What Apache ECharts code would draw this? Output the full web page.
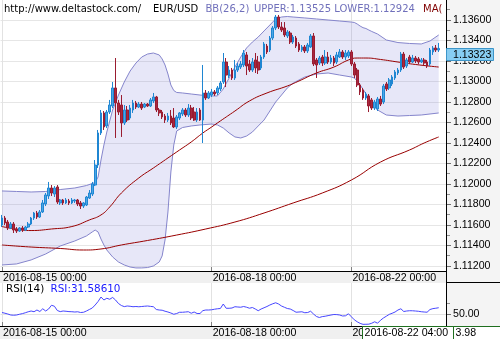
<!DOCTYPE html>
<html><head><meta charset="utf-8">
<script src="https://cdn.jsdelivr.net/npm/echarts@6.0.0/dist/echarts.min.js"></script>
<style>html,body{margin:0;padding:0;background:#fff;overflow:hidden}#chart{width:500px;height:339px}</style>
</head><body><div id="chart"></div>
<script>
// ---------- categories (hourly EUR/USD bars) ----------
const DAYS = ['2016-08-15','2016-08-16','2016-08-17','2016-08-18','2016-08-19','2016-08-22','2016-08-23'];
const SLOTS = 153;
const categories = [];
for (const d of DAYS) for (let h = 0; h < 24 && categories.length < SLOTS; h++) categories.push(d + ' ' + String(h).padStart(2, '0') + ':00');
const tickIdx = [0, 72, 120];
const crossIdx = 124;

// ---------- candles ----------
const open = [1.11600,1.11668,1.11629,1.11571,1.11610,1.11561,1.11541,1.11571,1.11551,1.11580,
1.11610,1.11668,1.11717,1.11678,1.11727,1.11805,1.11883,1.11961,1.11902,1.11971,
1.11815,1.11844,1.11815,1.11834,1.11815,1.11834,1.11844,1.11815,1.11785,1.11795,
1.11863,1.11902,1.11990,1.12185,1.12498,1.12693,1.12566,1.12702,1.12761,1.12937,
1.12790,1.12771,1.12595,1.12722,1.12644,1.12722,1.12790,1.12751,1.12780,1.12751,
1.12780,1.12761,1.12810,1.12849,1.12722,1.12702,1.12663,1.12624,1.12663,1.12644,
1.12556,1.12644,1.12683,1.12722,1.12673,1.12741,1.12702,1.12624,1.12722,1.12624,
1.12888,1.12839,1.12868,1.12898,1.12888,1.12927,1.12995,1.13190,1.13054,1.13112,
1.13034,1.13112,1.13141,1.13161,1.13259,1.13171,1.13112,1.13210,1.13190,1.13132,
1.13239,1.13346,1.13307,1.13424,1.13522,1.13629,1.13532,1.13522,1.13444,1.13473,
1.13385,1.13424,1.13366,1.13307,1.13337,1.13298,1.13337,1.13444,1.13210,1.13180,
1.13239,1.13180,1.13239,1.13190,1.13229,1.13190,1.13239,1.13288,1.13239,1.13249,
1.13288,1.13171,1.13112,1.12966,1.12917,1.12839,1.12859,1.12820,1.12741,1.12732,
1.12829,1.12800,1.12976,1.12937,1.12976,1.13034,1.13083,1.13112,1.13268,1.13151,
1.13239,1.13190,1.13229,1.13220,1.13190,1.13210,1.13190,1.13171,1.13288,1.13327,
1.13307];
const close = [1.11668,1.11620,1.11571,1.11610,1.11551,1.11541,1.11571,1.11551,1.11580,1.11610,
1.11668,1.11717,1.11678,1.11727,1.11815,1.11893,1.11961,1.11912,1.11961,1.11824,
1.11844,1.11815,1.11844,1.11815,1.11844,1.11844,1.11805,1.11785,1.11815,1.11873,
1.11912,1.12000,1.12185,1.12498,1.12693,1.12556,1.12702,1.12771,1.12937,1.12790,
1.12702,1.12595,1.12722,1.12624,1.12741,1.12790,1.12751,1.12780,1.12741,1.12780,
1.12761,1.12820,1.12849,1.12722,1.12693,1.12654,1.12624,1.12663,1.12595,1.12556,
1.12654,1.12693,1.12722,1.12673,1.12741,1.12644,1.12624,1.12702,1.12624,1.12888,
1.12839,1.12888,1.12898,1.12878,1.12937,1.12985,1.13190,1.13063,1.13112,1.13034,
1.13112,1.13151,1.13171,1.13278,1.13151,1.13112,1.13190,1.13132,1.13112,1.13239,
1.13366,1.13288,1.13424,1.13522,1.13629,1.13532,1.13502,1.13454,1.13483,1.13385,
1.13434,1.13346,1.13307,1.13337,1.13298,1.13356,1.13444,1.13171,1.13161,1.13229,
1.13180,1.13239,1.13190,1.13229,1.13180,1.13259,1.13288,1.13239,1.13278,1.13288,
1.13171,1.13063,1.12966,1.12898,1.12839,1.12878,1.12761,1.12741,1.12800,1.12829,
1.12780,1.12956,1.12927,1.13015,1.13044,1.13093,1.13112,1.13268,1.13141,1.13210,
1.13190,1.13229,1.13200,1.13190,1.13210,1.13180,1.13151,1.13307,1.13327,1.13307,
1.13323];
const low = [1.11580,1.11600,1.11551,1.11561,1.11522,1.11522,1.11532,1.11532,1.11541,1.11571,
1.11600,1.11649,1.11659,1.11668,1.11717,1.11785,1.11854,1.11883,1.11873,1.11805,
1.11795,1.11795,1.11805,1.11795,1.11805,1.11815,1.11785,1.11756,1.11766,1.11785,
1.11854,1.11883,1.11980,1.12156,1.12478,1.12527,1.12546,1.12683,1.12741,1.12449,
1.12673,1.12459,1.12576,1.12605,1.12624,1.12693,1.12732,1.12741,1.12722,1.12741,
1.12751,1.12751,1.12790,1.12702,1.12663,1.12634,1.12595,1.12605,1.12576,1.12546,
1.12537,1.12624,1.12663,1.12654,1.12654,1.12624,1.12615,1.12605,1.12615,1.12400,
1.12820,1.12829,1.12849,1.12859,1.12868,1.12907,1.12976,1.12946,1.13034,1.13015,
1.13015,1.13093,1.13122,1.13141,1.13063,1.13093,1.13093,1.13083,1.13073,1.13112,
1.13220,1.13268,1.13288,1.13405,1.13502,1.13512,1.13483,1.13434,1.13424,1.13366,
1.13366,1.13327,1.13288,1.13288,1.13278,1.13278,1.13327,1.13151,1.13034,1.13161,
1.13151,1.13161,1.13171,1.13171,1.13151,1.13171,1.13229,1.13220,1.13210,1.13229,
1.13151,1.13034,1.12946,1.12868,1.12820,1.12820,1.12702,1.12722,1.12722,1.12712,
1.12761,1.12780,1.12907,1.12917,1.12956,1.13015,1.13063,1.13093,1.13122,1.13132,
1.13171,1.13180,1.13180,1.13171,1.13180,1.13161,1.13132,1.13151,1.13259,1.13288,
1.13288];
const high = [1.11698,1.11688,1.11649,1.11629,1.11629,1.11580,1.11580,1.11590,1.11590,1.11629,
1.11678,1.11727,1.11737,1.11746,1.11844,1.11912,1.12020,1.11990,1.11980,1.11990,
1.11854,1.11854,1.11863,1.11854,1.11863,1.11854,1.11854,1.11834,1.11824,1.11883,
1.11941,1.12020,1.12234,1.12527,1.12722,1.12712,1.12722,1.12820,1.12995,1.13229,
1.12820,1.12868,1.12771,1.12761,1.12771,1.12820,1.12810,1.12800,1.12800,1.12790,
1.12790,1.12839,1.12888,1.12859,1.12741,1.12722,1.12683,1.12693,1.12722,1.12741,
1.12673,1.12702,1.12741,1.12741,1.12780,1.12771,1.12751,1.12741,1.12741,1.13161,
1.12917,1.12907,1.12927,1.12917,1.12956,1.13005,1.13278,1.13229,1.13151,1.13132,
1.13210,1.13180,1.13200,1.13307,1.13288,1.13210,1.13229,1.13278,1.13249,1.13259,
1.13385,1.13366,1.13444,1.13541,1.13649,1.13649,1.13580,1.13580,1.13502,1.13493,
1.13454,1.13444,1.13385,1.13356,1.13356,1.13376,1.13463,1.13473,1.13229,1.13249,
1.13259,1.13307,1.13288,1.13259,1.13249,1.13288,1.13317,1.13307,1.13307,1.13307,
1.13307,1.13190,1.13132,1.12985,1.12937,1.12898,1.12878,1.12839,1.12820,1.12849,
1.12859,1.12976,1.12995,1.13034,1.13063,1.13112,1.13132,1.13288,1.13288,1.13229,
1.13259,1.13259,1.13249,1.13239,1.13229,1.13229,1.13210,1.13327,1.13346,1.13356,
1.13376];

// ---------- Bollinger bands BB(26,2) (read at these bar indices) ----------
const bbIdx = [0,5,10,15,20,25,29,31,32,33,34,35,36,38,40,42,44,46,48,50,52,54,55,56,57,58,59,60,62,65,68,72,74,76,78,80,82,84,86,88,90,92,94,96,98,100,104,108,112,116,120,121,122,123,124,125,126,127,129,132,136,140,144,147,150];
const bbUpper = [1.11932,1.11927,1.11922,1.11927,1.11946,1.11961,1.11985,1.12005,1.12015,1.12068,1.12234,1.12380,1.12507,1.12722,1.12868,1.12995,1.13102,1.13180,1.13239,1.13268,1.13278,1.13259,1.13220,1.13161,1.13073,1.12966,1.12912,1.12893,1.12888,1.12878,1.12868,1.12859,1.12859,1.12927,1.13034,1.13141,1.13239,1.13327,1.13385,1.13434,1.13493,1.13551,1.13610,1.13629,1.13634,1.13629,1.13620,1.13610,1.13600,1.13590,1.13580,1.13576,1.13561,1.13541,1.13525,1.13517,1.13502,1.13488,1.13463,1.13405,1.13380,1.13371,1.13366,1.13395,1.13454];
const bbLower = [1.11210,1.11220,1.11259,1.11317,1.11395,1.11444,1.11493,1.11532,1.11551,1.11532,1.11463,1.11405,1.11356,1.11288,1.11239,1.11210,1.11190,1.11181,1.11181,1.11185,1.11200,1.11239,1.11298,1.11454,1.11727,1.12117,1.12380,1.12517,1.12551,1.12566,1.12576,1.12585,1.12576,1.12546,1.12498,1.12459,1.12449,1.12468,1.12507,1.12566,1.12624,1.12712,1.12800,1.12868,1.12937,1.12985,1.13044,1.13073,1.13083,1.13063,1.13044,1.13034,1.13005,1.12966,1.12924,1.12878,1.12829,1.12780,1.12722,1.12673,1.12663,1.12668,1.12673,1.12683,1.12693];

// ---------- moving averages ----------
const maFastIdx = [0,7,10,17,24,30,34,37,41,47,52,57,61,65,69,72,75,80,85,91,98,102,108,114,119,122,125,130,136,142,150];
const maFast = [1.11585,1.11551,1.11546,1.11561,1.11585,1.11649,1.11698,1.11776,1.11912,1.12059,1.12156,1.12254,1.12332,1.12410,1.12498,1.12556,1.12615,1.12712,1.12810,1.12888,1.12956,1.13005,1.13083,1.13141,1.13210,1.13229,1.13229,1.13215,1.13190,1.13166,1.13141];
const maSlowIdx = [0,10,20,28,34,41,50,60,70,80,90,100,110,120,130,140,145,150];
const maSlow = [1.11405,1.11385,1.11371,1.11356,1.11366,1.11405,1.11449,1.11502,1.11561,1.11629,1.11717,1.11815,1.11912,1.12039,1.12214,1.12332,1.12400,1.12459];

// ---------- RSI(14) ----------
const rsi = [52.9,51.6,50.2,48.4,48.0,48.4,49.7,50.9,52.4,54.2,
55.6,54.3,57.4,54.7,59.6,55.6,59.2,65.9,64.2,56.5,
54.5,55.6,55.1,54.5,54.3,53.8,54.2,52.9,53.3,55.6,
58.3,61.0,66.4,72.7,80.8,75.4,78.5,76.7,80.0,75.4,
69.1,65.5,63.5,64.6,64.1,63.3,63.7,63.2,63.7,64.2,
64.6,63.9,63.3,58.3,57.4,57.0,55.2,53.8,52.0,49.7,
51.1,53.3,53.3,53.8,54.3,51.6,53.8,51.1,51.1,56.3,
57.4,57.4,57.8,58.8,59.6,60.1,68.2,60.5,60.5,61.0,
63.3,62.8,62.4,63.7,62.4,60.6,61.9,59.2,56.1,59.2,
61.4,63.7,66.4,68.6,70.4,68.2,64.6,62.3,60.1,59.2,
56.5,53.4,53.8,54.2,52.5,52.9,55.2,50.2,45.7,43.9,
45.5,46.2,47.3,48.4,49.3,49.1,48.4,46.6,47.0,50.6,
45.2,39.8,36.2,33.3,31.5861,31.7,31.9,33.6,36.2,33.6,
38.9,43.0,46.2,49.5,51.5,53.8,57.4,59.6,54.7,55.6,
56.1,56.0,55.6,55.1,54.3,53.8,53.4,58.3,59.9,60.6,
61.5];

// ---------- axis ticks ----------
const priceTicks = [1.112,1.114,1.116,1.118,1.120,1.122,1.124,1.126,1.128,1.130,1.132,1.134,1.136];
const priceMinorTicks = [1.113,1.115,1.117,1.119,1.121,1.123,1.125,1.127,1.129,1.131,1.133,1.135,1.137];
const rsiTicks = [50];
const rsiMinorTicks = [70];
const crossValueText = '3.98';

// ---------- layout ----------
const PR = 446;             // right edge of plot panels
const MAIN_H = 271, RSI_T = 283, RSI_B = 326;
const yMin = 1.111512, yMax = 1.137951;
const rsiMin = 28.6, rsiMax = 106;
const FONT = '"Liberation Sans", Arial, sans-serif';
const LFONT = '"DejaVu Sans", Verdana, sans-serif';

const chart = echarts.init(document.getElementById('chart'), null, {renderer: 'canvas', width: 500, height: 339});
const candleData = open.map((o, i) => [o, close[i], low[i], high[i]]);
const pair = (idx, vals) => idx.map((ix, k) => [ix, vals[k]]);
const bandDiff = bbIdx.map((ix, k) => [ix, +(bbUpper[k] - bbLower[k]).toFixed(6)]);
const isTick = (i) => tickIdx.indexOf(i) >= 0;

function xAxisCfg(gi) {
  return {
    type: 'category', gridIndex: gi, data: categories, boundaryGap: true,
    axisLine: {show: false},
    axisTick: {show: true, inside: true, length: 4, alignWithLabel: true, interval: (i) => isTick(i), lineStyle: {color: '#808080'}},
    axisLabel: {show: true, interval: (i) => isTick(i), align: 'left', margin: 2, padding: [0, 0, 0, 1], fontSize: 10.6, fontFamily: FONT, color: '#000'},
    splitLine: {show: true, interval: (i) => isTick(i), alignWithLabel: true, lineStyle: {color: '#e2e2e2', width: 1}}
  };
}

const option = {
  animation: false,
  backgroundColor: '#fff',
  grid: [
    {left: 0, right: 500 - PR, top: 0, height: MAIN_H, containLabel: false},
    {left: 0, right: 500 - PR, top: RSI_T, height: RSI_B - RSI_T, containLabel: false}
  ],
  xAxis: [xAxisCfg(0), xAxisCfg(1)],
  yAxis: [
    {type: 'value', gridIndex: 0, position: 'right', min: yMin, max: yMax,
      axisLine: {show: false},
      axisTick: {show: true, length: 5, customValues: priceTicks, lineStyle: {color: '#707070'}},
      axisLabel: {show: true, customValues: priceTicks, margin: 7, fontSize: 10.6, fontFamily: FONT, color: '#000', formatter: (v) => v.toFixed(5)},
      splitLine: {show: true, lineStyle: {color: '#e6e6e6'}}},
    {type: 'value', gridIndex: 0, position: 'right', min: yMin, max: yMax,
      axisLine: {show: false}, axisLabel: {show: false}, splitLine: {show: false},
      axisTick: {show: true, length: 4, customValues: priceMinorTicks, lineStyle: {color: '#909090'}}},
    {type: 'value', gridIndex: 1, position: 'right', min: rsiMin, max: rsiMax,
      axisLine: {show: false},
      axisTick: {show: true, length: 5, customValues: rsiTicks, lineStyle: {color: '#707070'}},
      axisLabel: {show: true, customValues: rsiTicks, margin: 7, fontSize: 10.6, fontFamily: FONT, color: '#000', formatter: (v) => v.toFixed(2)},
      splitLine: {show: true, lineStyle: {color: '#e2e2e2'}}},
    {type: 'value', gridIndex: 1, position: 'right', min: rsiMin, max: rsiMax,
      axisLine: {show: false}, axisLabel: {show: false}, splitLine: {show: false},
      axisTick: {show: true, length: 4, customValues: rsiMinorTicks, lineStyle: {color: '#909090'}}}
  ],
  series: [
    {name: 'bbLower', type: 'line', xAxisIndex: 0, yAxisIndex: 0, stack: 'bb', data: pair(bbIdx, bbLower),
      symbol: 'none', smooth: false, z: 1, lineStyle: {color: '#8585cc', width: 1}},
    {name: 'bbBand', type: 'line', xAxisIndex: 0, yAxisIndex: 0, stack: 'bb', data: bandDiff,
      symbol: 'none', smooth: false, z: 1, lineStyle: {color: '#8585cc', width: 1},
      areaStyle: {color: 'rgba(112,112,215,0.24)'}},
    {name: 'maSlow', type: 'line', xAxisIndex: 0, yAxisIndex: 0, data: pair(maSlowIdx, maSlow),
      symbol: 'none', smooth: true, z: 2, lineStyle: {color: '#990000', width: 1}},
    {name: 'maFast', type: 'line', xAxisIndex: 0, yAxisIndex: 0, data: pair(maFastIdx, maFast),
      symbol: 'none', smooth: true, z: 2, lineStyle: {color: '#990000', width: 1}},
    {name: 'EURUSD', type: 'candlestick', xAxisIndex: 0, yAxisIndex: 0, data: candleData, barWidth: 2.2, z: 3,
      itemStyle: {color: '#4ba6e6', color0: '#a82840', borderColor: '#1f86d2', borderColor0: '#9a1c30', borderWidth: 1}},
    {name: 'RSI', type: 'line', xAxisIndex: 1, yAxisIndex: 2, data: rsi,
      symbol: 'none', smooth: false, z: 2, lineStyle: {color: '#4646ff', width: 1}}
  ]
};
chart.setOption(option);

// ---------- decorations: panels, frame, legends, value boxes ----------
const lastClose = close[close.length - 1];
const py = chart.convertToPixel({yAxisIndex: 0}, lastClose);
const cx = chart.convertToPixel({xAxisIndex: 1}, crossIdx);
const kc = bbIdx.indexOf(crossIdx);
const upTxt = 'UPPER:' + bbUpper[kc].toFixed(5) + ' LOWER:' + bbLower[kc].toFixed(5);
const rsiTxt = 'RSI:' + rsi[crossIdx].toFixed(5);

chart.setOption({
  graphic: [
    {type: 'rect', z: -1, silent: true, shape: {x: 0, y: MAIN_H, width: PR, height: RSI_T - MAIN_H}, style: {fill: '#f0f0f0'}},
    {type: 'rect', z: -1, silent: true, shape: {x: PR, y: 0, width: 500 - PR, height: RSI_B}, style: {fill: '#f4f4f4'}},
    {type: 'rect', z: -1, silent: true, shape: {x: 0, y: RSI_B, width: 500, height: 339 - RSI_B}, style: {fill: '#f0f0f0'}},
    {type: 'line', z: 20, silent: true, shape: {x1: 0, y1: MAIN_H + 0.5, x2: PR, y2: MAIN_H + 0.5}, style: {stroke: '#000', lineWidth: 1}},
    {type: 'line', z: 20, silent: true, shape: {x1: PR + 0.5, y1: 0, x2: PR + 0.5, y2: RSI_B}, style: {stroke: '#000', lineWidth: 1}},
    {type: 'line', z: 20, silent: true, shape: {x1: PR, y1: RSI_T - 0.5, x2: 500, y2: RSI_T - 0.5}, style: {stroke: '#000', lineWidth: 1}},
    {type: 'line', z: 20, silent: true, shape: {x1: 0, y1: RSI_B + 0.5, x2: 500, y2: RSI_B + 0.5}, style: {stroke: '#000', lineWidth: 1}},
    {type: 'text', z: 20, silent: true, x: 4, y: 9, style: {text: 'http://www.deltastock.com/', font: '10px ' + LFONT, fill: '#000', verticalAlign: 'middle'}},
    {type: 'text', z: 20, silent: true, x: 153, y: 9, style: {text: 'EUR/USD', font: '10px ' + LFONT, fill: '#000', verticalAlign: 'middle'}},
    {type: 'text', z: 20, silent: true, x: 205.5, y: 9, style: {text: 'BB(26,2)', font: '10px ' + LFONT, fill: '#7070bb', verticalAlign: 'middle'}},
    {type: 'text', z: 20, silent: true, x: 254, y: 9, style: {text: upTxt, font: '10px ' + LFONT, fill: '#7070bb', verticalAlign: 'middle'}},
    {type: 'text', z: 20, silent: true, x: 423, y: 9, style: {text: 'MA(', font: '10px ' + LFONT, fill: '#800000', verticalAlign: 'middle'}},
    {type: 'text', z: 20, silent: true, x: 6, y: 289.5, style: {text: 'RSI(14)', font: '10.4px ' + LFONT, fill: '#000', verticalAlign: 'middle'}},
    {type: 'text', z: 20, silent: true, x: 50.5, y: 289.5, style: {text: rsiTxt, font: '10.4px ' + LFONT, fill: '#1a1aff', verticalAlign: 'middle'}},
    {type: 'rect', z: 20, silent: true, shape: {x: PR + 0.5, y: Math.round(py) + 0.5, width: 47, height: 12}, style: {fill: '#87cdf2', stroke: '#3d95c8', lineWidth: 1}},
    {type: 'text', z: 21, silent: true, x: PR + 7, y: Math.round(py) + 7, style: {text: lastClose.toFixed(5), font: '10.6px ' + FONT, fill: '#000', verticalAlign: 'middle'}},
    {type: 'rect', z: 20, silent: true, shape: {x: Math.round(cx) - 0.5, y: RSI_B + 0.5, width: 91, height: 14}, style: {fill: '#fff', stroke: '#1f6f1f', lineWidth: 1}},
    {type: 'text', z: 21, silent: true, x: Math.round(cx) + 1.5, y: RSI_B + 7, style: {text: categories[crossIdx], font: '10.6px ' + FONT, fill: '#000', verticalAlign: 'middle'}},
    {type: 'rect', z: 20, silent: true, shape: {x: Math.round(cx) + 90.5, y: RSI_B + 0.5, width: 60, height: 14}, style: {fill: '#fff', stroke: '#1f6f1f', lineWidth: 1}},
    {type: 'text', z: 21, silent: true, x: Math.round(cx) + 92.5, y: RSI_B + 7, style: {text: crossValueText, font: '10.6px ' + FONT, fill: '#000', verticalAlign: 'middle'}}
  ]
});
</script>
</body></html>
